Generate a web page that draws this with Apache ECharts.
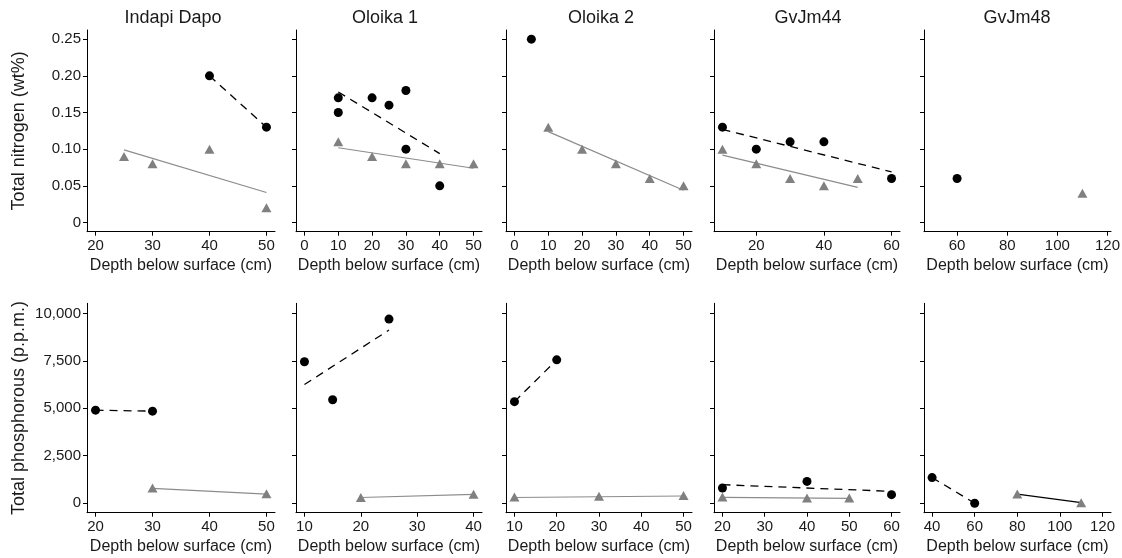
<!DOCTYPE html>
<html>
<head>
<meta charset="utf-8">
<title>Nitrogen and phosphorous by depth</title>
<script src="https://cdn.jsdelivr.net/npm/echarts@6.0.0/dist/echarts.min.js"></script>
<style>
  html, body { margin: 0; padding: 0; background: #fff; }
  #chart { width: 1122px; height: 558px; }
</style>
</head>
<body>
<div id="chart"></div>
<script>
var sites = ["Indapi Dapo", "Oloika 1", "Oloika 2", "GvJm44", "GvJm48"];

// total nitrogen (wt%), [depth cm, value]
var nCircles = [
  [[40, 0.20], [50, 0.13]],
  [[10, 0.17], [10, 0.15], [20, 0.17], [25, 0.16], [30, 0.18], [30, 0.10], [40, 0.05]],
  [[5, 0.25]],
  [[10, 0.13], [20, 0.10], [30, 0.11], [40, 0.11], [60, 0.06]],
  [[60, 0.06]]
];
var nCircleFit = [
  [[40, 0.20], [50, 0.13]],
  [[10, 0.178], [40, 0.094]],
  [],
  [[10, 0.127], [60, 0.069]],
  []
];
var nTriangles = [
  [[25, 0.09], [30, 0.08], [40, 0.10], [50, 0.02]],
  [[10, 0.11], [20, 0.09], [30, 0.08], [40, 0.08], [50, 0.08]],
  [[10, 0.13], [20, 0.10], [30, 0.08], [40, 0.06], [50, 0.05]],
  [[10, 0.10], [20, 0.08], [30, 0.06], [40, 0.05], [50, 0.06]],
  [[110, 0.04]]
];
var nTriangleFit = [
  [[25, 0.099], [50, 0.041]],
  [[10, 0.102], [50, 0.074]],
  [[10, 0.124], [50, 0.044]],
  [[10, 0.092], [50, 0.048]],
  []
];

// total phosphorous (p.p.m.), [depth cm, value]
var pCircles = [
  [[20, 4900], [30, 4850]],
  [[10, 7450], [15, 5450], [25, 9700]],
  [[10, 5350], [20, 7550]],
  [[20, 800], [40, 1150], [60, 450]],
  [[40, 1350], [60, 0]]
];
var pCircleFit = [
  [[20, 4900], [30, 4850]],
  [[10, 6250], [25, 9120]],
  [[10, 5350], [20, 7550]],
  [[20, 975], [60, 625]],
  [[40, 1350], [60, 0]]
];
var pTriangles = [
  [[30, 800], [50, 500]],
  [[20, 300], [40, 470]],
  [[10, 330], [30, 370], [50, 400]],
  [[20, 330], [40, 280], [50, 270]],
  [[80, 480], [110, 30]]
];
var pTriangleFit = [
  [[30, 780], [50, 480]],
  [[20, 300], [40, 470]],
  [[10, 300], [50, 380]],
  [[20, 310], [50, 255]],
  [[80, 480], [110, 30]]
];

// axes
var nXMin = [18.5, -2.5, -2.5, 7.5, 46.8];
var nXMax = [51.5, 52.5, 52.5, 62.5, 121.4];
var pXMin = [18.5, 8.5, 8, 18, 36.2];
var pXMax = [51.5, 41.5, 52, 62, 124];
var nXTicks = [[20, 30, 40, 50], [0, 10, 20, 30, 40, 50], [0, 10, 20, 30, 40, 50], [20, 40, 60], [60, 80, 100, 120]];
var pXTicks = [[20, 30, 40, 50], [10, 20, 30, 40], [10, 20, 30, 40, 50], [20, 30, 40, 50, 60], [40, 60, 80, 100, 120]];
var nYTicks = [0, 0.05, 0.1, 0.15, 0.2, 0.25];
var nYLabels = ["0", "0.05", "0.10", "0.15", "0.20", "0.25"];
var pYTicks = [0, 2500, 5000, 7500, 10000];
var pYLabels = ["0", "2,500", "5,000", "7,500", "10,000"];
var triFitColor = ["#8c8c8c", "#8c8c8c", "#8c8c8c", "#8c8c8c", "#000"];

var panelLeft = [87, 296, 506, 714, 924];
var panelRight = [275, 482, 692, 900, 1111];
var titleX = [173, 385, 601, 808, 1017];
var font = "'Liberation Sans', Arial, Helvetica, sans-serif";
var textColor = "#1a1a1a";

var chart = echarts.init(document.getElementById("chart"));

var grids = [], xAxes = [], yAxes = [], series = [], graphics = [];

function axisLine() {
  return { show: true, onZero: false, lineStyle: { color: "#000", width: 1 } };
}

function addPanel(idx, col, top, height, xmin, xmax, xticks, ymin, ymax, yticks, ylabels, yname) {
  grids.push({
    left: panelLeft[col],
    width: panelRight[col] - panelLeft[col],
    top: top,
    height: height,
    containLabel: false,
    outerBoundsMode: "none"
  });
  xAxes.push({
    type: "value",
    gridIndex: idx,
    min: xmin,
    max: xmax,
    name: "Depth below surface (cm)",
    nameLocation: "middle",
    nameGap: 26,
    nameMoveOverlap: false,
    nameTextStyle: { fontFamily: font, fontSize: 16, color: textColor },
    axisLine: axisLine(),
    axisTick: { show: true, length: 4, customValues: xticks, lineStyle: { color: "#000" } },
    axisLabel: {
      customValues: xticks,
      margin: 7,
      fontFamily: font,
      fontSize: 15,
      color: textColor
    },
    splitLine: { show: false }
  });
  yAxes.push({
    type: "value",
    gridIndex: idx,
    min: ymin,
    max: ymax,
    name: col === 0 ? yname : "",
    nameLocation: "middle",
    nameGap: 59,
    nameMoveOverlap: false,
    nameTextStyle: { fontFamily: font, fontSize: 18, color: textColor },
    axisLine: axisLine(),
    axisTick: { show: true, length: 4, customValues: yticks, lineStyle: { color: "#000" } },
    axisLabel: {
      show: col === 0,
      customValues: yticks,
      margin: 6,
      fontFamily: font,
      fontSize: 15,
      color: textColor,
      formatter: function (v) {
        for (var k = 0; k < yticks.length; k++) {
          if (Math.abs(yticks[k] - v) < 1e-9) return ylabels[k];
        }
        return "";
      }
    },
    splitLine: { show: false }
  });
}

function addSeries(idx, circles, circleFit, triangles, triangleFit, fitColor) {
  series.push({
    type: "line",
    xAxisIndex: idx,
    yAxisIndex: idx,
    data: circleFit,
    symbol: "none",
    z: 2,
    lineStyle: { color: "#000", width: 1.3, type: [8, 6] }
  });
  series.push({
    type: "line",
    xAxisIndex: idx,
    yAxisIndex: idx,
    data: triangleFit,
    symbol: "none",
    z: 2,
    lineStyle: { color: fitColor, width: 1.2 }
  });
  series.push({
    type: "scatter",
    xAxisIndex: idx,
    yAxisIndex: idx,
    data: triangles,
    symbol: "triangle",
    symbolSize: [10, 9],
    z: 3,
    itemStyle: { color: "#808080", opacity: 1 }
  });
  series.push({
    type: "scatter",
    xAxisIndex: idx,
    yAxisIndex: idx,
    data: circles,
    symbol: "circle",
    symbolSize: 9,
    z: 4,
    itemStyle: { color: "#000", opacity: 1 }
  });
}

for (var i = 0; i < 5; i++) {
  addPanel(i, i, 30, 201.7, nXMin[i], nXMax[i], nXTicks[i], -0.0125, 0.2625, nYTicks, nYLabels, "Total nitrogen (wt%)");
  addSeries(i, nCircles[i], nCircleFit[i], nTriangles[i], nTriangleFit[i], "#8c8c8c");
  graphics.push({
    type: "text",
    x: titleX[i],
    y: 18.5,
    style: {
      text: sites[i],
      align: "center",
      verticalAlign: "middle",
      fontFamily: font,
      fontSize: 18,
      fill: textColor
    }
  });
}
for (var j = 0; j < 5; j++) {
  addPanel(5 + j, j, 303.3, 209.4, pXMin[j], pXMax[j], pXTicks[j], -500, 10530, pYTicks, pYLabels, "Total phosphorous (p.p.m.)");
  addSeries(5 + j, pCircles[j], pCircleFit[j], pTriangles[j], pTriangleFit[j], triFitColor[j]);
}

chart.setOption({
  animation: false,
  backgroundColor: "#fff",
  grid: grids,
  xAxis: xAxes,
  yAxis: yAxes,
  series: series,
  graphic: graphics
});
</script>
</body>
</html>
